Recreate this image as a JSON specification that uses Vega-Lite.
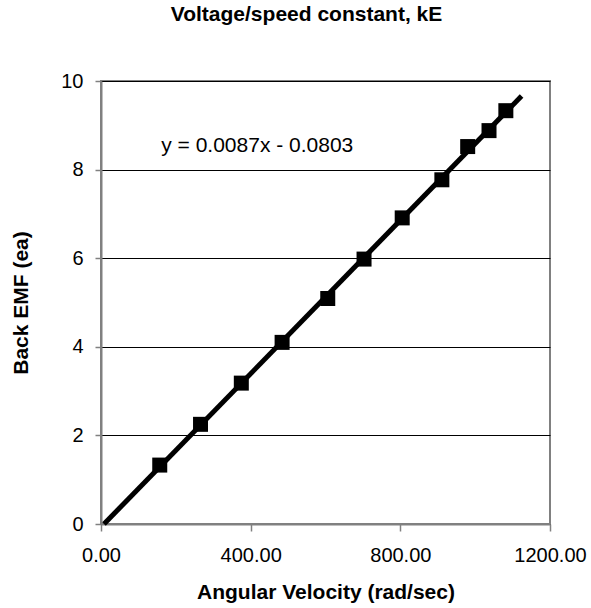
{
  "$schema": "https://vega.github.io/schema/vega-lite/v6.json",
  "autosize": {"type": "none"},
  "padding": {"left": 101, "top": 81, "right": 41, "bottom": 84},
  "width": 449,
  "height": 443,
  "background": "white",
  "config": {
    "font": "Liberation Sans",
    "view": {"stroke": "#808080", "strokeWidth": 2}
  },
  "title": {
    "text": "Voltage/speed constant, kE",
    "font": "Liberation Sans",
    "fontSize": 21,
    "fontWeight": "bold",
    "color": "black",
    "anchor": "middle",
    "dx": -19,
    "offset": 46
  },
  "datasets": {
    "points": [
      {"w": 157, "emf": 1.33},
      {"w": 266, "emf": 2.25},
      {"w": 375, "emf": 3.18},
      {"w": 484, "emf": 4.10},
      {"w": 606, "emf": 5.09},
      {"w": 703, "emf": 5.98},
      {"w": 805, "emf": 6.91},
      {"w": 911, "emf": 7.77},
      {"w": 980, "emf": 8.52},
      {"w": 1037, "emf": 8.88},
      {"w": 1082, "emf": 9.33}
    ],
    "trend": [
      {"w": 8, "emf": 0},
      {"w": 1124, "emf": 9.66}
    ],
    "label": [
      {"w": 161, "emf": 8.40, "text": "y = 0.0087x - 0.0803"}
    ]
  },
  "encoding": {
    "x": {
      "field": "w",
      "type": "quantitative",
      "scale": {"domain": [0, 1200], "nice": false},
      "axis": {
        "title": "Angular Velocity (rad/sec)",
        "values": [0, 400, 800, 1200],
        "format": ".2f",
        "grid": false,
        "domainColor": "#808080",
        "domainWidth": 2,
        "tickColor": "#808080",
        "tickWidth": 1.5,
        "tickSize": 7,
        "labelFont": "Liberation Sans",
        "labelFontSize": 20,
        "labelColor": "black",
        "labelPadding": 14,
        "labelFlush": false,
        "titleFont": "Liberation Sans",
        "titleFontSize": 21,
        "titleFontWeight": "bold",
        "titleColor": "black",
        "titlePadding": 16
      }
    },
    "y": {
      "field": "emf",
      "type": "quantitative",
      "scale": {"domain": [0, 10], "nice": false},
      "axis": {
        "title": "Back EMF (ea)",
        "values": [0, 2, 4, 6, 8, 10],
        "format": "d",
        "grid": true,
        "gridColor": "black",
        "gridWidth": 1,
        "domainColor": "#808080",
        "domainWidth": 2,
        "tickColor": "#808080",
        "tickWidth": 1.5,
        "tickSize": 6,
        "labelFont": "Liberation Sans",
        "labelFontSize": 20,
        "labelColor": "black",
        "labelPadding": 12,
        "titleFont": "Liberation Sans",
        "titleFontSize": 21,
        "titleFontWeight": "bold",
        "titleColor": "black",
        "titlePadding": 29
      }
    }
  },
  "layer": [
    {
      "data": {"name": "trend"},
      "mark": {"type": "line", "color": "black", "strokeWidth": 5, "strokeCap": "butt"}
    },
    {
      "data": {"name": "points"},
      "mark": {"type": "point", "shape": "square", "filled": true, "color": "black", "size": 225, "opacity": 1}
    },
    {
      "data": {"name": "label"},
      "mark": {"type": "text", "align": "left", "baseline": "alphabetic", "font": "Liberation Sans", "fontSize": 21, "color": "black"},
      "encoding": {"text": {"field": "text"}}
    }
  ]
}
